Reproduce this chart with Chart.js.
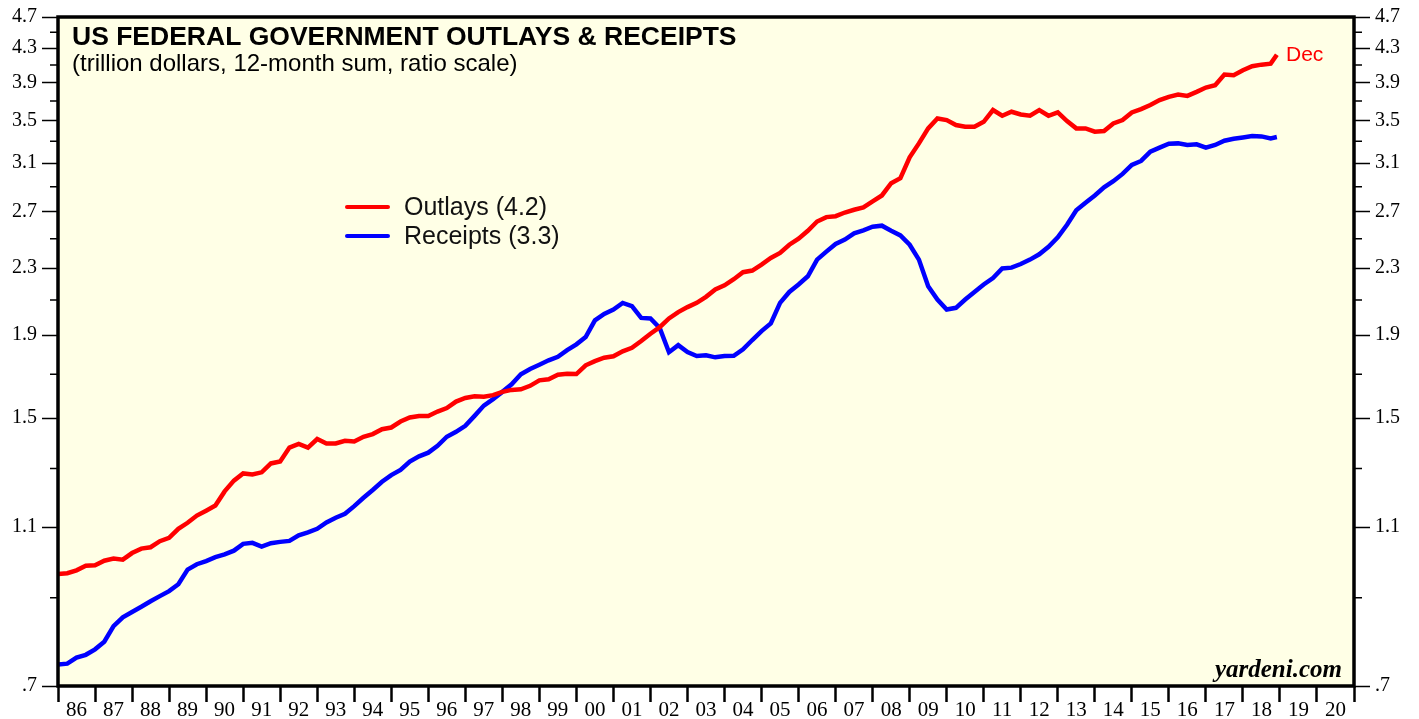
<!DOCTYPE html>
<html>
<head>
<meta charset="utf-8">
<script src="https://cdn.jsdelivr.net/npm/chart.js@4.4.1/dist/chart.umd.min.js"></script>
<style>
  html, body { margin: 0; padding: 0; background: #fff; }
  #wrap { width: 1419px; height: 719px; position: relative; }
</style>
</head>
<body>
<div id="wrap"><canvas id="chart"></canvas></div>
<script>
// quarterly readings, Jan 1986 .. Oct 2018, plus the last month (Dec 2018)
const quarterStart = 1986;
const lastMonth = 2018 + 11 / 12;

const outlays = [
  0.963, 0.965, 0.973, 0.986, 0.987,
  1.000, 1.006, 1.003, 1.022,
  1.035, 1.039, 1.057, 1.067,
  1.095, 1.114, 1.137, 1.153,
  1.170, 1.218, 1.256, 1.282,
  1.278, 1.286, 1.319, 1.326,
  1.380, 1.394, 1.380, 1.414,
  1.396, 1.396, 1.407, 1.404,
  1.423, 1.434, 1.454, 1.461,
  1.486, 1.503, 1.510, 1.510,
  1.529, 1.544, 1.573, 1.589,
  1.597, 1.595, 1.602, 1.617,
  1.626, 1.629, 1.645, 1.671,
  1.676, 1.698, 1.703, 1.701,
  1.744, 1.765, 1.782, 1.789,
  1.815, 1.833, 1.869, 1.908,
  1.944, 1.993, 2.029, 2.058,
  2.083, 2.119, 2.164, 2.190,
  2.228, 2.273, 2.284, 2.323,
  2.367, 2.401, 2.458, 2.501,
  2.558, 2.626, 2.659, 2.666,
  2.694, 2.715, 2.733, 2.780,
  2.828, 2.928, 2.970, 3.152,
  3.280, 3.423, 3.521, 3.505,
  3.456, 3.439, 3.439, 3.488,
  3.606, 3.548, 3.589, 3.561,
  3.548, 3.606, 3.548, 3.582,
  3.495, 3.423, 3.423, 3.391,
  3.397, 3.471, 3.505, 3.582,
  3.616, 3.658, 3.710, 3.745,
  3.769, 3.755, 3.798, 3.845,
  3.871, 3.989, 3.983, 4.039,
  4.086, 4.104, 4.116,
  4.222
];

const receipts = [
  0.744, 0.746, 0.759, 0.765, 0.777,
  0.794, 0.830, 0.851, 0.864,
  0.877, 0.891, 0.904, 0.917,
  0.935, 0.975, 0.990, 0.999,
  1.010, 1.018, 1.029, 1.049,
  1.052, 1.041, 1.051, 1.055,
  1.058, 1.075, 1.084, 1.095,
  1.115, 1.130, 1.143, 1.168,
  1.196, 1.223, 1.252, 1.276,
  1.295, 1.326, 1.346, 1.360,
  1.387, 1.423, 1.443, 1.468,
  1.510, 1.555, 1.584, 1.617,
  1.652, 1.700, 1.726, 1.747,
  1.769, 1.787, 1.821, 1.851,
  1.890, 1.982, 2.019, 2.044,
  2.083, 2.064, 1.996, 1.993,
  1.940, 1.810, 1.847, 1.811,
  1.791, 1.794, 1.784, 1.791,
  1.792, 1.825, 1.874, 1.922,
  1.965, 2.083, 2.149, 2.195,
  2.247, 2.356, 2.410, 2.463,
  2.494, 2.539, 2.560, 2.587,
  2.595, 2.558, 2.524, 2.458,
  2.356, 2.184, 2.103, 2.044,
  2.054, 2.103, 2.149, 2.195,
  2.236, 2.297, 2.303, 2.327,
  2.356, 2.392, 2.444, 2.510,
  2.602, 2.712, 2.770, 2.828,
  2.895, 2.945, 3.007, 3.085,
  3.120, 3.204, 3.240, 3.277,
  3.280, 3.265, 3.271, 3.240,
  3.265, 3.305, 3.324, 3.336,
  3.350, 3.346, 3.327,
  3.340
];

const majorTicks = [0.7, 1.1, 1.5, 1.9, 2.3, 2.7, 3.1, 3.5, 3.9, 4.3, 4.7];
const minorTicks = [0.9, 1.3, 1.7, 2.1, 2.5, 2.9, 3.3, 3.7, 4.1, 4.5];
const years = [];
for (let y = 1986; y <= 2021; y++) years.push(y);

const dates = [];
for (let i = 0; i < outlays.length - 1; i++) dates.push(quarterStart + i / 4);
dates.push(lastMonth);

const seriesLabels = ['Outlays (4.2)', 'Receipts (3.3)'];
const seriesColors = ['#ff0000', '#0000ff'];

const toPoints = vals => vals.map((v, i) => ({ x: dates[i], y: v }));

const serif = '"Liberation Serif", "Times New Roman", serif';
const sans = '"Liberation Sans", Arial, sans-serif';

function yAxis(pos) {
    return {
        type: 'logarithmic',
        position: pos,
        min: 0.7,
        max: 4.7,
        afterBuildTicks: s => { s.ticks = majorTicks.map(v => ({ value: v })); },
        afterFit: s => { s.width = pos === 'left' ? 58 : 65; },
        border: { display: false },
        grid: { drawOnChartArea: false, drawTicks: true, tickLength: 16, tickWidth: 1.5, tickColor: '#000' },
        ticks: {
            autoSkip: false,
            padding: 5,
            color: '#000',
            font: { family: serif, size: 20 },
            callback: v => v < 1 ? v.toFixed(1).replace(/^0/, '') : v.toFixed(1)
        }
    };
}

const framePlugin = {
    id: 'frame',
    beforeDraw(chart) {
        const { ctx, chartArea: a } = chart;
        ctx.save();
        ctx.fillStyle = '#ffffe6';
        ctx.fillRect(a.left, a.top, a.right - a.left, a.bottom - a.top);
        ctx.restore();
    },
    afterDraw(chart) {
        const { ctx, chartArea: a } = chart;
        const yl = chart.scales.y, yr = chart.scales.y2;
        ctx.save();

        // minor ticks on both sides
        ctx.strokeStyle = '#000';
        ctx.lineWidth = 1.5;
        minorTicks.forEach(v => {
            const pl = yl.getPixelForValue(v), pr = yr.getPixelForValue(v);
            ctx.beginPath();
            ctx.moveTo(a.left - 8, pl); ctx.lineTo(a.left, pl);
            ctx.moveTo(a.right, pr); ctx.lineTo(a.right + 8, pr);
            ctx.stroke();
        });

        // frame
        ctx.lineWidth = 3.5;
        ctx.strokeRect(a.left, a.top, a.right - a.left, a.bottom - a.top);

        // title
        ctx.fillStyle = '#000';
        ctx.textAlign = 'left';
        ctx.textBaseline = 'alphabetic';
        ctx.font = 'bold 26.5px ' + sans;
        ctx.fillText('US FEDERAL GOVERNMENT OUTLAYS & RECEIPTS', 72, 45);
        ctx.font = '24px ' + sans;
        ctx.fillText('(trillion dollars, 12-month sum, ratio scale)', 72, 71);

        // legend
        ctx.textBaseline = 'middle';
        ctx.font = '25px ' + sans;
        seriesLabels.forEach((lab, i) => {
            const ly = 207 + i * 29;
            ctx.strokeStyle = seriesColors[i];
            ctx.lineWidth = 4;
            ctx.lineCap = 'round';
            ctx.beginPath(); ctx.moveTo(347, ly); ctx.lineTo(388, ly); ctx.stroke();
            ctx.fillStyle = '#111';
            ctx.fillText(lab, 404, ly + 1);
        });

        // last-month note
        ctx.fillStyle = '#ff0000';
        ctx.font = '21px ' + sans;
        ctx.fillText('Dec', 1286, 55);

        // source
        ctx.fillStyle = '#000';
        ctx.textAlign = 'right';
        ctx.textBaseline = 'alphabetic';
        ctx.font = 'italic bold 25px ' + serif;
        ctx.fillText('yardeni.com', 1342, 677);
        ctx.restore();
    }
};

new Chart(document.getElementById('chart'), {
    type: 'line',
    data: {
        datasets: [
            { label: seriesLabels[0], data: toPoints(outlays), borderColor: seriesColors[0], borderWidth: 4.5, pointRadius: 0, tension: 0, yAxisID: 'y' },
            { label: seriesLabels[1], data: toPoints(receipts), borderColor: seriesColors[1], borderWidth: 4.5, pointRadius: 0, tension: 0, yAxisID: 'y' }
        ]
    },
    options: {
        responsive: true,
        maintainAspectRatio: false,
        devicePixelRatio: 1,
        animation: false,
        layout: { padding: { top: 15, left: 0, right: 0, bottom: 0 } },
        plugins: { legend: { display: false }, tooltip: { enabled: false } },
        scales: {
            x: {
                type: 'linear',
                min: 1986,
                max: 2021,
                afterBuildTicks: s => { s.ticks = years.map(v => ({ value: v })); },
                afterFit: s => { s.height = 33; },
                border: { display: false },
                grid: { drawOnChartArea: false, drawTicks: true, tickLength: 16, tickWidth: 2.5, tickColor: '#000' },
                ticks: {
                    autoSkip: false,
                    maxRotation: 0,
                    padding: -4,
                    labelOffset: 18.5,
                    color: '#000',
                    font: { family: serif, size: 21 },
                    callback: v => v < 2021 ? String(v).slice(2) : ''
                }
            },
            y: yAxis('left'),
            y2: yAxis('right')
        }
    },
    plugins: [framePlugin]
});
</script>
</body>
</html>
